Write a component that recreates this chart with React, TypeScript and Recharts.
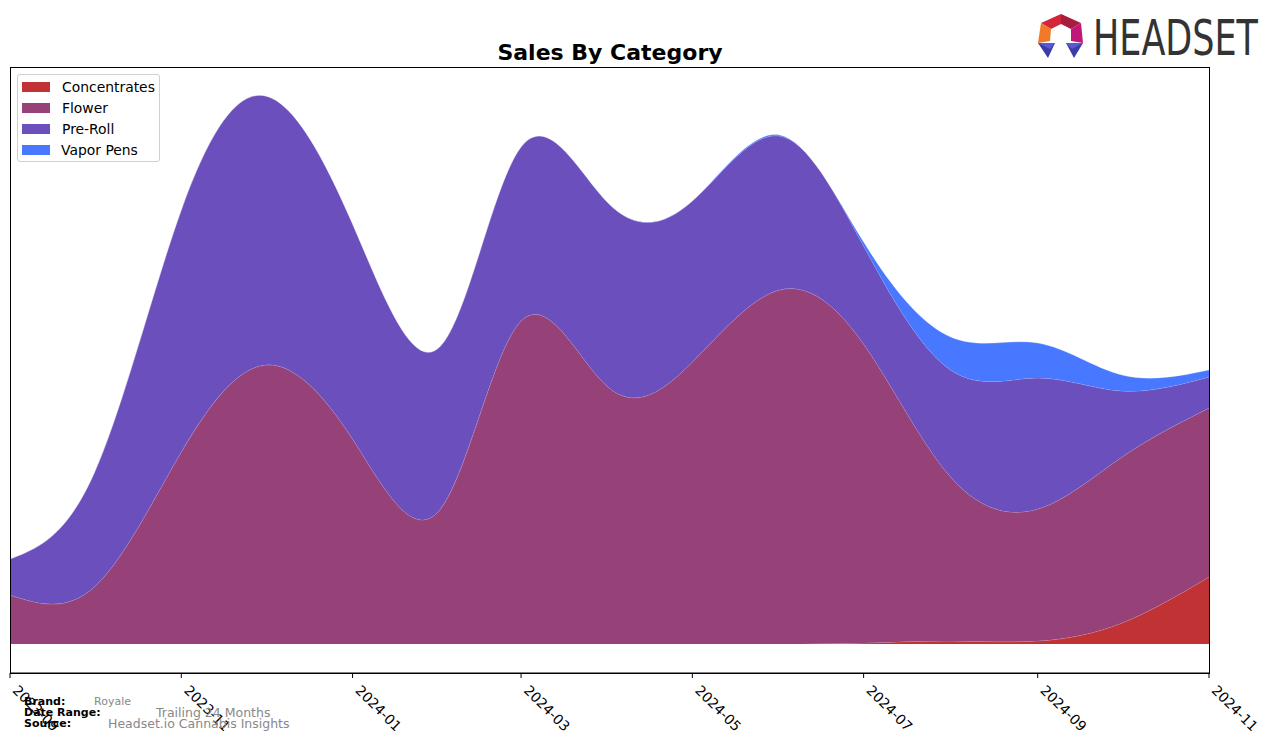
import React from "react";
import { AreaChart, Area, XAxis, YAxis, Legend } from "recharts";

const months = [
  "2023-09", "2023-10", "2023-11", "2023-12", "2024-01", "2024-02", "2024-03",
  "2024-04", "2024-05", "2024-06", "2024-07", "2024-08", "2024-09", "2024-10", "2024-11",
];
const concentrates = [0, 0, 0, 0, 0, 0, 0, 0, 0, 0, 1, 3, 3, 21, 67];
const flower = [49, 57, 192, 279, 205, 134, 323, 257, 282, 354, 299, 164, 132, 166, 169];
const preRoll = [36, 114, 242, 269, 215, 163, 174, 184, 161, 154, 98, 107, 131, 66, 31];
const vaporPens = [0, 0, 0, 0, 0, 0, 0, 0, 0, 1, 4, 33, 35, 16, 7];
const tickLabels = ["2023-09", "2023-11", "2024-01", "2024-03", "2024-05", "2024-07", "2024-09", "2024-11"];

const seriesNames = ["Concentrates", "Flower", "Pre-Roll", "Vapor Pens"];
const seriesColors = ["#C03233", "#964278", "#6A4FBD", "#4878FF"];
const seriesValues = [concentrates, flower, preRoll, vaporPens];

const toTime = (m: string) => {
  const [y, mo] = m.split("-").map(Number);
  return Date.UTC(y, mo - 1, 1);
};

const data = months.map((m, i) => {
  const row: Record<string, number | string> = { month: m, t: toTime(m) };
  seriesNames.forEach((s, k) => {
    row[s] = seriesValues[k][i];
  });
  return row;
});

const tickValues = tickLabels.map(toTime);
const FONT = "'DejaVu Sans', Verdana, sans-serif";

const AxisTick = (props: any) => {
  const { x, y, payload } = props;
  const d = new Date(payload.value);
  const label = `${d.getUTCFullYear()}-${String(d.getUTCMonth() + 1).padStart(2, "0")}`;
  return (
    <g transform={`translate(${x + 11},${y + 2}) rotate(45)`}>
      <text x={0} y={12.9} fontFamily={FONT} fontSize={13.9} fill="#000" textAnchor="start">
        {label}
      </text>
    </g>
  );
};

const LegendBox = () => (
  <div
    style={{
      width: 141,
      height: 86,
      border: "1px solid #d0d0d0",
      borderRadius: 3,
      background: "rgba(255,255,255,0.8)",
      fontFamily: FONT,
      fontSize: 13.9,
      position: "relative",
    }}
  >
    {seriesNames.map((name, i) => (
      <div key={name} style={{ position: "absolute", left: 4, top: 6 + i * 21, height: 12, display: "flex", alignItems: "center" }}>
        <div style={{ width: 28, height: 10, background: seriesColors[i] }} />
        <span style={{ marginLeft: name === "Vapor Pens" ? 11 : 12, lineHeight: "12px", color: "#000" }}>{name}</span>
      </div>
    ))}
  </div>
);

export default function App() {
  return (
    <div style={{ position: "absolute", left: 0, top: 0, width: 1276, height: 743, background: "#fff" }}>
      <AreaChart
        width={1276}
        height={743}
        data={data}
        margin={{ top: 67, right: 67, left: 10, bottom: 0 }}
      >
        <XAxis
          dataKey="t"
          type="number"
          domain={[tickValues[0], tickValues[tickValues.length - 1]]}
          ticks={tickValues}
          tick={<AxisTick />}
          tickLine={{ stroke: "#000" }}
          tickSize={5}
          axisLine={{ stroke: "#000" }}
          height={70}
          interval={0}
          allowDataOverflow
        />
        <YAxis hide domain={[-29, 577]} allowDataOverflow type="number" />
        <Legend
          layout="horizontal"
          verticalAlign="middle"
          align="center"
          content={<LegendBox />}
          wrapperStyle={{ position: "absolute", left: 17, top: 74, width: 143, height: 88 }}
        />
        {seriesNames.map((name, i) => (
          <Area
            key={name}
            dataKey={name}
            name={name}
            stackId="1"
            type="natural"
            fill={seriesColors[i]}
            fillOpacity={1}
            stroke="#ffffff"
            strokeOpacity={0.25}
            strokeWidth={1}
            isAnimationActive={false}
            dot={false}
            activeDot={false}
          />
        ))}
      </AreaChart>
      <div
        style={{
          position: "absolute",
          left: 10,
          top: 67,
          width: 1200,
          height: 607,
          border: "1px solid #000",
          boxSizing: "border-box",
          pointerEvents: "none",
        }}
      />
      <svg width={1276} height={743} style={{ position: "absolute", left: 0, top: 0, pointerEvents: "none" }}>
        <text x={610} y={60} textAnchor="middle" fontFamily={FONT} fontWeight="bold" fontSize={22} fill="#000">
          Sales By Category
        </text>
        <g>
          <polygon points="1061,14 1061,24 1051,29 1041,23" fill="#D3263A" />
          <polygon points="1061,14 1081,23 1071,29 1061,24" fill="#A81C3E" />
          <polygon points="1081,23 1083,43 1071,41 1071,29" fill="#C0187A" />
          <polygon points="1041,23 1051,29 1050,41 1038,43" fill="#F07A28" />
          <polygon points="1038,43 1055,43 1048,58" fill="#3C3CA8" />
          <polygon points="1038,43 1055,43 1050,49" fill="#5A5AD0" />
          <polygon points="1066,43 1083,43 1074,58" fill="#3C3CA8" />
          <polygon points="1066,43 1083,43 1072,49" fill="#5A5AD0" />
        </g>
        <text
          x={1093}
          y={55}
          fontFamily="'DejaVu Sans', sans-serif"
          fontSize={50}
          fill="#333"
          textLength={165}
          lengthAdjust="spacingAndGlyphs"
        >
          HEADSET
        </text>
        <g fontFamily={FONT}>
          <text x={24} y={705} fontSize={11} fontWeight="bold" fill="#000">Brand:</text>
          <text x={94} y={705} fontSize={11} fill="#888">Royale</text>
          <text x={24} y={716} fontSize={11} fontWeight="bold" fill="#000">Date Range:</text>
          <text x={156} y={717} fontSize={12.5} fill="#888">Trailing 24 Months</text>
          <text x={24} y={727} fontSize={11} fontWeight="bold" fill="#000">Source:</text>
          <text x={108} y={728} fontSize={12.5} fill="#888">Headset.io Cannabis Insights</text>
        </g>
      </svg>
    </div>
  );
}
